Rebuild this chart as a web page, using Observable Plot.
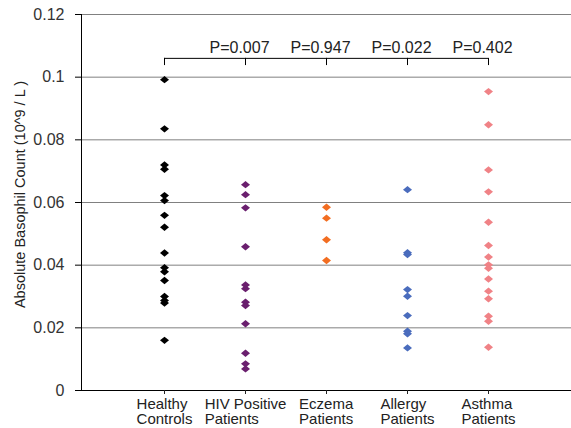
<!DOCTYPE html>
<html>
<head>
<meta charset="utf-8">
<script src="https://cdn.jsdelivr.net/npm/d3@7"></script>
<script src="https://cdn.jsdelivr.net/npm/@observablehq/plot@0.6"></script>
<style>
  html, body { margin: 0; padding: 0; background: #fff; }
  #chart { width: 571px; height: 428px; }
</style>
</head>
<body>
<div id="chart"></div>
<script>
// Categories
const groups = ["Healthy\nControls", "HIV Positive\nPatients", "Eczema\nPatients", "Allergy\nPatients", "Asthma\nPatients"];
const colors = ["#000000", "#6a1f6e", "#f26d21", "#4a6cbd", "#f08286"];

// Series values (10^9 / L)
const healthy = [0.0992, 0.0835, 0.0720, 0.0706, 0.0622, 0.0606, 0.0559, 0.0521, 0.0439, 0.0392, 0.0379, 0.0351, 0.0300, 0.0287, 0.0279, 0.0160];
const hiv = [0.0657, 0.0625, 0.0583, 0.0459, 0.0337, 0.0325, 0.0282, 0.0271, 0.0213, 0.0119, 0.0085, 0.0069];
const eczema = [0.0585, 0.0550, 0.0481, 0.0415];
const allergy = [0.0641, 0.0440, 0.0434, 0.0322, 0.0301, 0.0239, 0.0189, 0.0181, 0.0136];
const asthma = [0.0954, 0.0848, 0.0704, 0.0634, 0.0537, 0.0463, 0.0426, 0.0401, 0.0390, 0.0356, 0.0317, 0.0293, 0.0237, 0.0221, 0.0138];
const series = [healthy, hiv, eczema, allergy, asthma];

// P-value annotations (compared with healthy controls)
const pGroups = ["HIV Positive\nPatients", "Eczema\nPatients", "Allergy\nPatients", "Asthma\nPatients"];
const pLabels = ["P=0.007", "P=0.947", "P=0.022", "P=0.402"];
const bracketTop = 0.106;
const bracketFoot = 0.1037;
const pLabelY = 0.1092;

// Y ticks
const yTicks = [0, 0.02, 0.04, 0.06, 0.08, 0.1, 0.12];
const yTitle = "Absolute Basophil Count (10^9 / L )";

const data = groups.flatMap((g, i) => series[i].map(v => ({group: g, value: v})));

const diamond = {
  draw(context) {
    context.moveTo(0, -3.7);
    context.lineTo(4.5, 0);
    context.lineTo(0, 3.7);
    context.lineTo(-4.5, 0);
    context.closePath();
  }
};

const chart = Plot.plot({
  width: 571,
  height: 428,
  marginLeft: 81,
  marginRight: 0,
  marginTop: 14,
  marginBottom: 38,
  style: {fontFamily: "'Liberation Sans', Arial, sans-serif", background: "#fff", color: "#222"},
  x: {type: "point", domain: groups, padding: 1},
  y: {domain: [0, 0.12]},
  color: {domain: groups, range: colors},
  marks: [
    Plot.gridY(yTicks.slice(1), {stroke: "#808080", strokeOpacity: 1, strokeWidth: 1}),
    Plot.ruleY([0], {stroke: "#000"}),
    Plot.frame({anchor: "left", stroke: "#000"}),
    Plot.axisY({ticks: yTicks, tickSize: 6, tickPadding: 11, tickFormat: d => String(+d.toFixed(2)), fontSize: 16, label: null, stroke: "#000", fill: "#333", style: {letterSpacing: "1.8px"}}),
    Plot.axisX({tickSize: 4, tickPadding: 3, tickFormat: d => d, fontSize: 15, label: null, lineHeight: 1.05, fill: "#222", style: {letterSpacing: "0.6px"}}),
    Plot.text([yTitle], {frameAnchor: "left", textAnchor: "middle", rotate: -90, dx: -61, dy: -8, fontSize: 14.5, fill: "#222", text: d => d}),
    Plot.ruleY([bracketTop], {x1: () => groups[0], x2: () => groups[groups.length - 1], stroke: "#000"}),
    Plot.ruleX(groups, {x: d => d, y1: bracketFoot, y2: bracketTop, stroke: "#000"}),
    Plot.text(pGroups, {x: d => d, y: pLabelY, text: (d, i) => pLabels[i], fontSize: 16, fill: "#222", dx: -6, style: {letterSpacing: "0.3px"}}),
    Plot.dot(data, {x: "group", y: "value", fill: "group", symbol: diamond, stroke: null})
  ]
});
document.getElementById("chart").appendChild(chart);

// Left-align the two lines of each category label inside a centred block
d3.select(chart).selectAll('g[aria-label="x-axis tick label"] text').each(function () {
  const w = this.getBBox().width;
  this.setAttribute("text-anchor", "start");
  d3.select(this).selectAll("tspan").attr("x", -w / 2);
});
</script>
</body>
</html>
